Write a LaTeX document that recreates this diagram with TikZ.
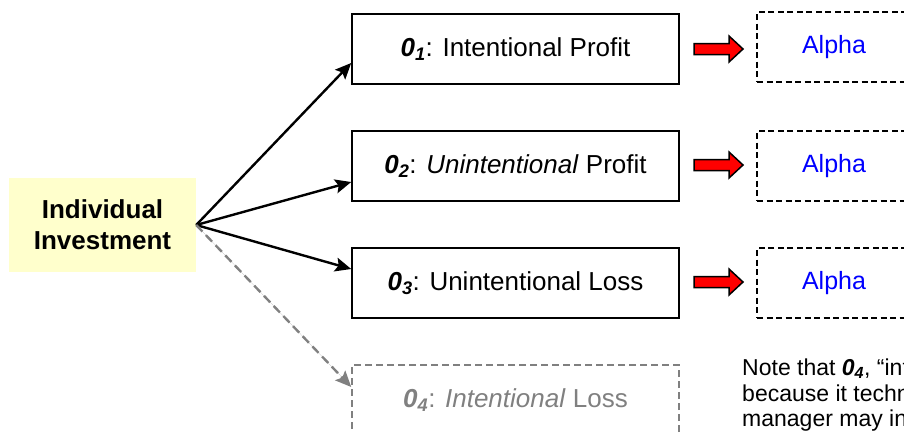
\documentclass[tikz,border=0pt]{standalone}
\usepackage{fontspec}
\setmainfont{Liberation Sans}
\usetikzlibrary{arrows.meta}
\definecolor{invfill}{HTML}{FFFFCC}
\definecolor{fade}{HTML}{808080}
\newcommand\ozero[1]{\textbf{\textit{0}}\textsubscript{\textbf{\textit{#1}}}}
\begin{document}
\begin{tikzpicture}[x=1pt,y=-1pt,
  txt/.style={font=\fontsize{26}{30}\selectfont},
  outbox/.style={draw=black, line width=1.6pt, minimum width=327pt, minimum height=70pt, inner sep=0pt, txt},
  alphabox/.style={draw=black, line width=1.5pt, dash pattern=on 6pt off 3.5pt, minimum width=154pt, minimum height=70pt, inner sep=0pt, text=blue, font=\fontsize{25}{30}\selectfont},
  ghostbox/.style={draw=fade, line width=1.5pt, dash pattern=on 7pt off 4pt, minimum width=327pt, minimum height=70pt, inner sep=0pt, text=fade, txt},
  link/.style={line width=2.4pt, -{Stealth[length=16pt,width=14pt,inset=3pt]}},
  ghostlink/.style={link, draw=fade, fill=fade, dash pattern=on 9pt off 5pt},
  redarrow/.style={fill=red, draw=black, line width=1.5pt, line join=miter},
  note/.style={anchor=base west, inner sep=0pt, font=\fontsize{23}{26}\selectfont}
]
\useasboundingbox (0,0) rectangle (904,432);
\clip (0,0) rectangle (904,432);

% source
\node[fill=invfill, minimum width=187pt, minimum height=94pt, inner sep=0pt, align=center,
      font=\fontsize{26}{31}\selectfont\bfseries] (inv) at (102.5,225) {Individual\\Investment};

% outcome boxes
\node[outbox] (b1) at (515.5,49) {\ozero{1}: Intentional Profit};
\node[outbox] (b2) at (515.5,166) {\ozero{2}: \textit{Unintentional} Profit};
\node[outbox] (b3) at (515.5,283) {\ozero{3}: Unintentional Loss};
\node[ghostbox] (b4) at (515.5,400) {\ozero{4}: \textit{Intentional} Loss};

% alpha boxes
\node[alphabox] (a1) at (834,47) {Alpha};
\node[alphabox] (a2) at (834,166) {Alpha};
\node[alphabox] (a3) at (834,283) {Alpha};

% connectors
\draw[link] (inv.east) -- ([yshift=-14pt]b1.west);
\draw[link] (inv.east) -- ([yshift=-16pt]b2.west);
\draw[link] (inv.east) -- ([yshift=14pt]b3.west);
\draw[ghostlink] (inv.east) -- ([yshift=13pt]b4.west);

% red block arrows
\foreach \c in {49,165,282}{
  \draw[redarrow] (694,\c-5.5) -- (729,\c-5.5) -- (729,\c-13) -- (743,\c)
    -- (729,\c+13) -- (729,\c+5.5) -- (694,\c+5.5) -- cycle;
}

% note
\node[note] (n1) at (742,375) {Note that \ozero{4}, “int};
\node[note] (n2) at (742,401) {because it techn};
\node[note] (n3) at (742,426) {manager may in};
\end{tikzpicture}
\end{document}
